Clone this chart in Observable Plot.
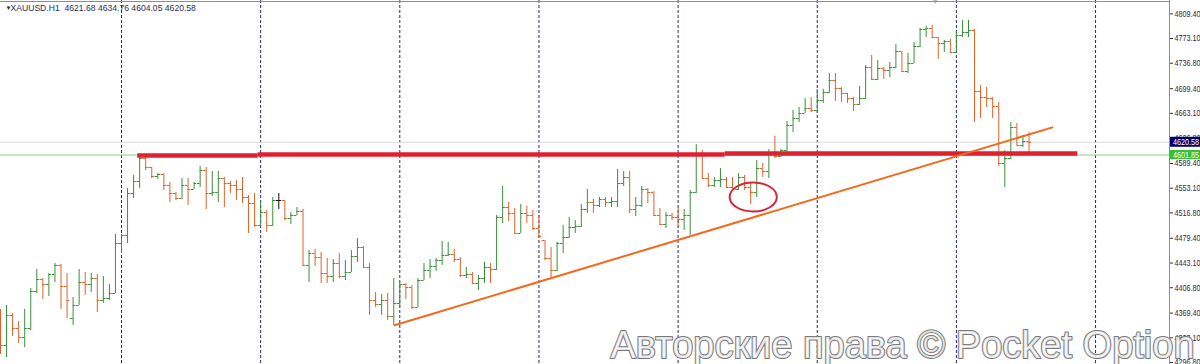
<!DOCTYPE html>
<html><head><meta charset="utf-8">
<script src="https://cdn.jsdelivr.net/npm/d3@7"></script>
<script src="https://cdn.jsdelivr.net/npm/@observablehq/plot@0.6"></script>
<style>
html,body{margin:0;padding:0;background:#fff;}
#chart{width:1200px;height:364px;overflow:hidden;}
</style></head>
<body><div id="chart"></div>
<script>
// ---------- data ----------
const symbolLabel = "XAUUSD.H1";
const lastOHLC = [4621.68, 4634.76, 4604.05, 4620.58];
const bidPrice = 4620.58;
const levelPrice = 4601.85;
const daySeparators = [20, 43, 66, 89, 112, 135, 158, 181];
const shiftMarkerBar = [154.5];
const yTickValues = [4809.40, 4773.10, 4736.80, 4699.40, 4663.10, 4626.80, 4589.40, 4553.10,
  4516.80, 4479.40, 4443.10, 4406.80, 4369.40, 4333.10, 4296.80];

const open = [
4361.5, 4321.9, 4366.0, 4346.8, 4333.6, 4346.8, 4401.2, 4418.9, 4411.5, 4426.2,
4439.5, 4408.6, 4361.5, 4380.7, 4414.5, 4411.5, 4420.3, 4388.0, 4390.9, 4398.3,
4471.8, 4483.6, 4545.3, 4562.9, 4596.7, 4583.5, 4570.3, 4573.2, 4557.1, 4545.3,
4537.9, 4557.1, 4551.2, 4560.0, 4579.1, 4545.3, 4546.8, 4567.3, 4560.0, 4557.1,
4551.2, 4539.4, 4530.6, 4498.3, 4517.4, 4498.3, 4535.0, 4535.0, 4508.5, 4513.0,
4518.8, 4439.5, 4457.1, 4451.2, 4427.7, 4423.3, 4442.4, 4423.3, 4429.2, 4452.7,
4465.9, 4436.5, 4388.0, 4382.1, 4388.0, 4364.5, 4383.6, 4411.5, 4407.1, 4377.7,
4417.4, 4432.1, 4438.0, 4446.8, 4454.2, 4455.6, 4448.3, 4424.7, 4426.2, 4413.0,
4420.3, 4436.5, 4433.6, 4510.1, 4524.7, 4515.9, 4486.5, 4515.9, 4513.0, 4493.8,
4476.2, 4449.7, 4432.1, 4471.8, 4480.6, 4495.3, 4496.8, 4521.8, 4532.1, 4527.7,
4536.5, 4532.1, 4533.5, 4560.0, 4568.8, 4521.8, 4527.7, 4551.2, 4546.8, 4513.0,
4499.7, 4513.0, 4510.1, 4507.1, 4513.0, 4546.8, 4601.2, 4567.3, 4557.1, 4564.4,
4565.9, 4554.1, 4551.2, 4568.8, 4554.1, 4546.8, 4582.0, 4577.6, 4604.1, 4599.7,
4608.5, 4645.3, 4655.5, 4662.9, 4670.2, 4667.3, 4682.0, 4693.8, 4711.4, 4699.6,
4692.3, 4684.9, 4676.1, 4684.9, 4730.5, 4712.9, 4729.0, 4726.1, 4730.5, 4754.0,
4724.6, 4736.4, 4761.4, 4786.4, 4787.8, 4774.6, 4765.8, 4768.7, 4752.6, 4777.6,
4782.0, 4784.9, 4695.2, 4686.4, 4684.9, 4673.2, 4589.4, 4596.7, 4642.3, 4615.9,
4621.68];

const high = [
4374.8, 4380.7, 4368.9, 4357.1, 4374.8, 4405.6, 4433.6, 4420.3, 4427.7, 4442.4,
4440.9, 4427.7, 4392.4, 4433.6, 4429.2, 4427.7, 4426.2, 4423.3, 4411.5, 4485.0,
4485.0, 4552.6, 4571.8, 4598.2, 4598.2, 4583.5, 4574.7, 4574.7, 4561.5, 4546.8,
4567.3, 4567.3, 4561.5, 4585.0, 4583.5, 4577.6, 4577.6, 4568.8, 4562.9, 4564.4,
4568.8, 4542.4, 4545.3, 4533.5, 4520.3, 4539.4, 4545.3, 4535.0, 4517.4, 4524.7,
4521.8, 4461.5, 4463.0, 4458.6, 4449.7, 4448.3, 4457.1, 4446.8, 4461.5, 4479.1,
4467.4, 4442.4, 4399.8, 4396.9, 4398.3, 4420.3, 4413.0, 4413.0, 4410.0, 4420.3,
4442.4, 4448.3, 4449.7, 4474.7, 4473.3, 4463.0, 4451.2, 4436.5, 4429.2, 4424.7,
4443.9, 4442.4, 4513.0, 4555.6, 4532.1, 4523.2, 4529.1, 4526.2, 4520.3, 4513.0,
4476.2, 4465.9, 4473.3, 4498.3, 4510.1, 4505.6, 4529.1, 4551.2, 4536.5, 4539.4,
4539.4, 4539.4, 4580.6, 4577.6, 4577.6, 4539.4, 4555.6, 4552.6, 4548.2, 4523.2,
4517.4, 4515.9, 4523.2, 4521.8, 4549.7, 4617.3, 4608.5, 4574.7, 4568.8, 4582.0,
4568.8, 4568.8, 4574.7, 4571.8, 4560.0, 4593.8, 4589.4, 4610.0, 4629.1, 4610.0,
4651.1, 4667.3, 4671.7, 4684.9, 4686.4, 4698.2, 4698.2, 4721.7, 4721.7, 4701.1,
4692.3, 4686.4, 4702.6, 4733.5, 4748.2, 4740.8, 4730.5, 4737.9, 4764.3, 4754.0,
4751.1, 4767.3, 4787.8, 4790.8, 4792.3, 4774.6, 4770.2, 4771.7, 4783.4, 4799.6,
4799.6, 4786.4, 4704.1, 4701.1, 4686.4, 4679.1, 4608.5, 4649.7, 4648.2, 4630.6,
4634.76];

const low = [
4308.6, 4304.2, 4335.1, 4324.8, 4318.9, 4343.9, 4398.3, 4389.5, 4393.9, 4414.5,
4374.8, 4361.5, 4351.3, 4380.7, 4395.4, 4399.8, 4370.4, 4383.6, 4388.0, 4398.3,
4457.1, 4471.8, 4537.9, 4552.6, 4579.1, 4567.3, 4565.9, 4549.7, 4532.1, 4535.0,
4536.5, 4527.7, 4551.2, 4554.1, 4521.8, 4540.9, 4532.1, 4524.7, 4545.3, 4535.0,
4530.6, 4486.5, 4495.3, 4496.8, 4488.0, 4496.8, 4521.8, 4505.6, 4499.7, 4513.0,
4438.0, 4414.5, 4438.0, 4413.0, 4413.0, 4414.5, 4420.3, 4417.4, 4429.2, 4443.9,
4435.0, 4366.0, 4377.7, 4366.0, 4358.6, 4351.3, 4377.7, 4389.5, 4374.8, 4377.7,
4417.4, 4420.3, 4430.6, 4439.5, 4452.7, 4443.9, 4421.8, 4420.3, 4411.5, 4402.7,
4413.0, 4413.0, 4432.1, 4501.2, 4504.1, 4486.5, 4486.5, 4501.2, 4490.9, 4480.6,
4446.8, 4420.3, 4430.6, 4457.1, 4479.1, 4486.5, 4495.3, 4515.9, 4515.9, 4524.7,
4524.7, 4524.7, 4524.7, 4555.6, 4515.9, 4511.5, 4524.7, 4530.6, 4511.5, 4498.3,
4493.8, 4505.6, 4493.8, 4490.9, 4483.6, 4545.3, 4567.3, 4554.1, 4554.1, 4554.1,
4554.1, 4549.7, 4549.7, 4549.7, 4529.1, 4539.4, 4568.8, 4567.3, 4596.7, 4598.2,
4605.6, 4635.0, 4649.7, 4662.9, 4664.4, 4662.9, 4677.6, 4692.3, 4680.5, 4679.1,
4677.6, 4665.8, 4674.6, 4683.5, 4711.4, 4711.4, 4712.9, 4715.8, 4729.0, 4723.2,
4721.7, 4736.4, 4759.9, 4774.6, 4773.1, 4742.3, 4752.6, 4751.1, 4751.1, 4774.6,
4774.6, 4649.7, 4655.5, 4671.7, 4655.5, 4585.0, 4554.1, 4595.3, 4615.9, 4612.9,
4604.05];

const close = [
4321.9, 4366.0, 4346.8, 4333.6, 4346.8, 4401.2, 4418.9, 4411.5, 4426.2, 4439.5,
4408.6, 4388.0, 4380.7, 4414.5, 4411.5, 4420.3, 4388.0, 4390.9, 4398.3, 4471.8,
4483.6, 4545.3, 4562.9, 4596.7, 4583.5, 4570.3, 4573.2, 4557.1, 4545.3, 4537.9,
4557.1, 4551.2, 4560.0, 4579.1, 4545.3, 4546.8, 4567.3, 4560.0, 4557.1, 4551.2,
4539.4, 4530.6, 4498.3, 4517.4, 4498.3, 4535.0, 4535.0, 4508.5, 4513.0, 4518.8,
4439.5, 4457.1, 4451.2, 4427.7, 4423.3, 4442.4, 4423.3, 4429.2, 4452.7, 4465.9,
4436.5, 4388.0, 4382.1, 4388.0, 4364.5, 4383.6, 4411.5, 4407.1, 4377.7, 4417.4,
4432.1, 4438.0, 4446.8, 4454.2, 4455.6, 4448.3, 4424.7, 4426.2, 4413.0, 4420.3,
4436.5, 4433.6, 4510.1, 4524.7, 4515.9, 4486.5, 4515.9, 4513.0, 4493.8, 4482.1,
4449.7, 4432.1, 4471.8, 4480.6, 4495.3, 4496.8, 4521.8, 4532.1, 4527.7, 4536.5,
4532.1, 4533.5, 4560.0, 4568.8, 4521.8, 4527.7, 4551.2, 4546.8, 4513.0, 4499.7,
4513.0, 4510.1, 4507.1, 4513.0, 4546.8, 4601.2, 4567.3, 4557.1, 4564.4, 4565.9,
4554.1, 4551.2, 4568.8, 4554.1, 4546.8, 4582.0, 4577.6, 4604.1, 4599.7, 4608.5,
4645.3, 4655.5, 4662.9, 4670.2, 4667.3, 4682.0, 4693.8, 4711.4, 4699.6, 4692.3,
4684.9, 4676.1, 4684.9, 4730.5, 4712.9, 4729.0, 4726.1, 4730.5, 4754.0, 4724.6,
4736.4, 4761.4, 4786.4, 4787.8, 4774.6, 4765.8, 4768.7, 4752.6, 4777.6, 4782.0,
4784.9, 4695.2, 4686.4, 4684.9, 4673.2, 4589.4, 4596.7, 4642.3, 4615.9, 4621.7,
4620.58];

// drawn objects (in bar index / price units)
const supportSeg = ["a", "a", "b", "b", "c", "c"];
const supportIdx = [22.6, 42.5, 42.5, 119.7, 119.7, 178.0];
const supportPrice = [4601.2, 4601.2, 4602.5, 4602.5, 4604.1, 4604.1];
const trendIdx = [65, 174];
const trendPrice = [4351.3, 4642.8];
const ringCenter = [124.5, 4539.4];   // bar index, price
const ringRadius = [3.9, 21.3];       // bars, price
const watermark = "Авторские права © Pocket Option";

// ---------- styles ----------
const GREEN = "#3a8f3a", ORANGE = "#dc6228", DOJI = "#111";
const RED = "#e0202e", TREND = "#f26a1e", RING = "#d32738";
const GRID = "#26267a", AXIS = "#2a2a4a", FRAME = "#8a8ab4";
const NAVY = "#00006e", TAGGREEN = "#34c234";
const FONT = "'Liberation Sans',Arial,sans-serif";

const bars = open.map((o, i) => ({i, o, h: high[i], l: low[i], c: close[i]}));
const barColor = d => d.c > d.o ? GREEN : d.c < d.o ? ORANGE : DOJI;
const support = supportIdx.map((x, k) => ({i: x, p: supportPrice[k], s: supportSeg[k]}));
const trend = trendIdx.map((x, k) => ({i: x, p: trendPrice[k]}));

const header = `${symbolLabel}  ${lastOHLC.map(v => v.toFixed(2)).join(" ")}`;

function frameMark(index, scales, values, dims) {
  const g = d3.create("svg:g").attr("stroke", FRAME).attr("fill", "none");
  const xr = dims.width - dims.marginRight + 0.5;
  g.append("line").attr("x1", 0).attr("x2", xr).attr("y1", 1.5).attr("y2", 1.5);
  g.append("line").attr("x1", xr).attr("x2", xr).attr("y1", 0).attr("y2", dims.height);
  return g.node();
}
function ringMark(index, scales) {
  const cx = scales.x(ringCenter[0]), cy = scales.y(ringCenter[1]);
  const rx = scales.x(ringCenter[0] + ringRadius[0]) - cx;
  const ry = scales.y(ringCenter[1] - ringRadius[1]) - cy;
  return d3.create("svg:ellipse").attr("cx", cx).attr("cy", cy).attr("rx", rx).attr("ry", ry)
    .attr("fill", "none").attr("stroke", RING).attr("stroke-width", 2).node();
}
function priceTag(value, bg, h) {
  return (index, scales, values, dims) => {
    const y = scales.y(value);
    const x0 = dims.width - dims.marginRight + 1;
    const g = d3.create("svg:g");
    g.append("rect").attr("x", x0).attr("y", y - h / 2).attr("width", dims.marginRight).attr("height", h).attr("fill", bg);
    g.append("text").attr("x", x0 + 3).attr("y", y).attr("dy", "0.34em").attr("fill", "#fff")
      .attr("text-anchor", "start").attr("font-size", 9).attr("font-family", FONT)
      .attr("textLength", 26).attr("lengthAdjust", "spacingAndGlyphs").text(value.toFixed(2));
    return g.node();
  };
}

const chart = Plot.plot({
  width: 1200, height: 364,
  marginLeft: 0, marginRight: 31, marginTop: 0, marginBottom: 0,
  x: {domain: [0, 1169 / 6.05], axis: null},
  y: {domain: [4829 - 1.47 * 364, 4829], axis: null},
  style: {background: "#fff", fontFamily: FONT, fontSize: "9px", overflow: "visible"},
  marks: [
    Plot.ruleX(daySeparators, {stroke: GRID, strokeDasharray: "3,2", strokeWidth: 1}),
    Plot.ruleY([bidPrice], {stroke: "#dadada"}),
    Plot.ruleY([levelPrice], {stroke: "#86cf86"}),
    Plot.ruleX(bars, {x: "i", y1: "l", y2: "h", stroke: barColor}),
    Plot.ruleY(bars, {y: "o", x1: d => d.i - 0.45, x2: "i", stroke: barColor}),
    Plot.ruleY(bars, {y: "c", x1: "i", x2: d => d.i + 0.45, stroke: barColor}),
    Plot.line(support, {x: "i", y: "p", z: "s", stroke: RED, strokeWidth: 4.5, strokeLinecap: "butt"}),
    Plot.line(trend, {x: "i", y: "p", stroke: TREND, strokeWidth: 2, strokeLinecap: "butt"}),
    ringMark,
    Plot.text(shiftMarkerBar, {x: d => d, frameAnchor: "top", text: () => "▼", lineAnchor: "top", dy: -2,
      fontSize: 8, fill: "#b4b4bc"}),
    Plot.axisY(yTickValues, {anchor: "right", tickSize: 3, tickPadding: 2, color: AXIS,
      tickFormat: d => d.toFixed(2)}),
    frameMark,
    priceTag(bidPrice, NAVY, 10),
    priceTag(levelPrice, TAGGREEN, 9),
    Plot.text(["▼"], {frameAnchor: "top-left", dx: 5, dy: 5, lineAnchor: "top", fontSize: 6, fill: "#222"}),
    Plot.text([header], {frameAnchor: "top-left", dx: 10, dy: 4, lineAnchor: "top", textAnchor: "start",
      fontSize: 8.6, fill: "#2c2c5a", ariaLabel: "header"}),
    Plot.text([watermark], {frameAnchor: "bottom-left", dx: 610, dy: -7, lineAnchor: "bottom", textAnchor: "start",
      fontSize: 38, fill: "#ffffff", fillOpacity: 0.8,
      stroke: "#7a7a7a", strokeWidth: 2, ariaLabel: "watermark"})
  ]
});
// condense texts to the narrow widths of the original terminal font
d3.select(chart).selectAll('g[aria-label="y-axis tick label"] text')
  .attr("textLength", 26).attr("lengthAdjust", "spacingAndGlyphs");
d3.select(chart).selectAll('g[aria-label="header"] text')
  .attr("textLength", 153).attr("lengthAdjust", "spacingAndGlyphs");
d3.select(chart).selectAll('g[aria-label="watermark"] text')
  .attr("textLength", 582).attr("lengthAdjust", "spacingAndGlyphs");
document.getElementById("chart").appendChild(chart);
</script></body></html>
